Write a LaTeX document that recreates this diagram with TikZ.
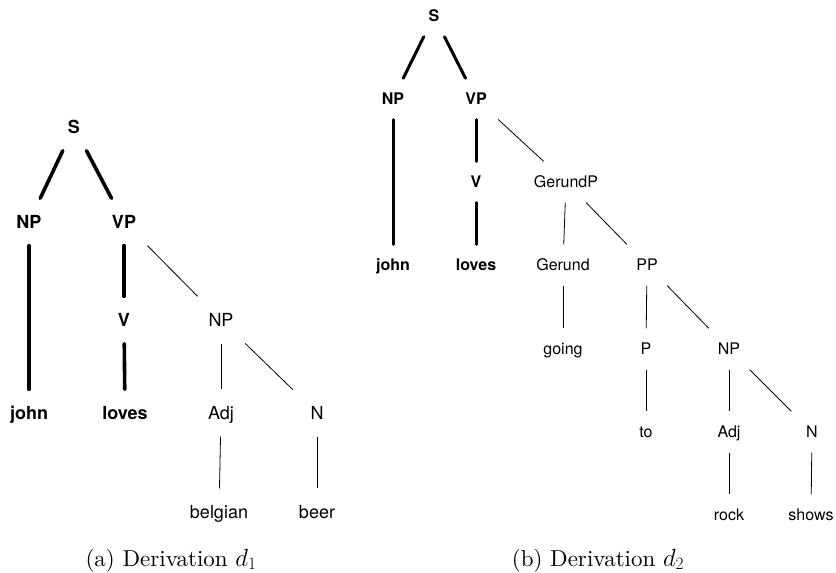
\documentclass[tikz,border=0pt]{standalone}
\usepackage{fontspec}
\setsansfont{TeX Gyre Heros}
% captions in the 10pt design size of Latin Modern, scaled up
\newfontfamily\capfont{lmroman10-regular.otf}
\begin{document}
\begin{tikzpicture}[x=1pt,y=-1pt,
  lnode/.style={font=\sffamily\fontsize{18}{20}\selectfont, text height=13pt, text depth=0pt,
                inner sep=0pt, minimum height=47pt, minimum width=48pt},
  lbold/.style={lnode, font=\sffamily\bfseries\fontsize{18}{20}\selectfont},
  rnode/.style={font=\sffamily\fontsize{16}{18}\selectfont, text height=11.5pt, text depth=0pt,
                inner sep=0pt, minimum height=41pt, minimum width=44pt},
  rbold/.style={rnode, font=\sffamily\bfseries\fontsize{16}{18}\selectfont},
  heavyL/.style={line width=3.6pt, line cap=round},
  heavyR/.style={line width=3pt, line cap=round},
  light/.style={line width=0.8pt},
  capt/.style={font=\capfont\fontsize{23}{27}\selectfont, anchor=base}]
\useasboundingbox (0,0) rectangle (836,573);

% ---- derivation d1 ----
\node[lbold] (aS)     at (74,127)  {S};
\node[lbold] (aNP)    at (29,222)  {NP};
\node[lbold] (aVP)    at (124,222) {VP};
\node[lbold] (aV)     at (124,320) {V};
\node[lnode] (aNP2)   at (221,320) {NP};
\node[lbold] (ajohn)  at (29,413)  {john};
\node[lbold] (aloves) at (125,413) {loves};
\node[lnode] (aAdj)   at (221,413) {Adj};
\node[lnode] (aN)     at (317,413) {N};
\node[lnode] (abelg)  at (219,512) {belgian};
\node[lnode] (abeer)  at (317,512) {beer};

\draw[heavyL] (aS) -- (aNP);
\draw[heavyL] (aS) -- (aVP);
\draw[heavyL] (aNP) -- (ajohn);
\draw[heavyL] (aVP) -- (aV);
\draw[heavyL] (aV) -- (aloves);
\draw[light] (aVP) -- (aNP2);
\draw[light] (aNP2) -- (aAdj);
\draw[light] (aNP2) -- (aN);
\draw[light] (aAdj) -- (abelg);
\draw[light] (aN) -- (abeer);

\node[capt] (capa) at (171,566) {(a) Derivation $d_1$};

% ---- derivation d2 ----
\node[rbold] (bS)      at (434,16)  {S};
\node[rbold] (bNP)     at (393,99)  {NP};
\node[rbold] (bVP)     at (476,99)  {VP};
\node[rbold] (bjohn)   at (393,265) {john};
\node[rbold] (bV)      at (476,182) {V};
\node[rbold] (bloves)  at (476,265) {loves};
\node[rnode] (bGP)     at (566,182) {GerundP};
\node[rnode] (bGer)    at (563,265) {Gerund};
\node[rnode] (bPP)     at (647,265) {PP};
\node[rnode] (bgoing)  at (563,349) {going};
\node[rnode] (bP)      at (646,349) {P};
\node[rnode] (bNP2)    at (729,349) {NP};
\node[rnode] (bto)     at (646,432) {to};
\node[rnode] (bAdj)    at (729,432) {Adj};
\node[rnode] (bN)      at (812,432) {N};
\node[rnode] (brock)   at (729,515) {rock};
\node[rnode] (bshows)  at (811,515) {shows};

\draw[heavyR] (bS) -- (bNP);
\draw[heavyR] (bS) -- (bVP);
\draw[heavyR] (bNP) -- (bjohn);
\draw[heavyR] (bVP) -- (bV);
\draw[heavyR] (bV) -- (bloves);
\draw[light] (bVP) -- (bGP);
\draw[light] (bGP) -- (bGer);
\draw[light] (bGP) -- (bPP);
\draw[light] (bGer) -- (bgoing);
\draw[light] (bPP) -- (bP);
\draw[light] (bPP) -- (bNP2);
\draw[light] (bP) -- (bto);
\draw[light] (bNP2) -- (bAdj);
\draw[light] (bNP2) -- (bN);
\draw[light] (bAdj) -- (brock);
\draw[light] (bN) -- (bshows);

\node[capt] (capb) at (598,566) {(b) Derivation $d_2$};
\end{tikzpicture}
\end{document}
